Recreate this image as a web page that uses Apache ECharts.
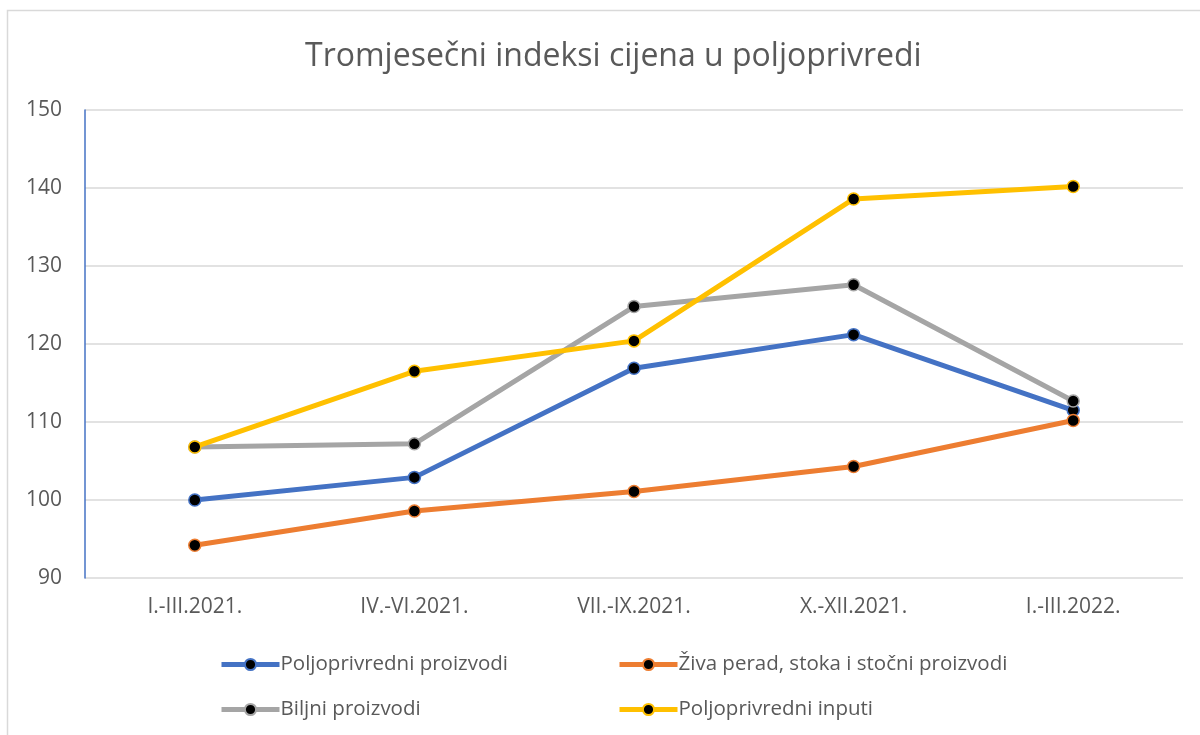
<!DOCTYPE html>
<html>
<head>
<meta charset="utf-8">
<script src="https://cdn.jsdelivr.net/npm/echarts@6/dist/echarts.min.js"></script>
<style>html,body{margin:0;padding:0;background:#fff}#c{width:1200px;height:735px}</style>
</head>
<body>
<div id="c"></div>
<script>
const title = 'Tromjesečni indeksi cijena u poljoprivredi';
const categories = ['I.-III.2021.', 'IV.-VI.2021.', 'VII.-IX.2021.', 'X.-XII.2021.', 'I.-III.2022.'];
const seriesNames = ['Poljoprivredni proizvodi', 'Živa perad, stoka i stočni proizvodi', 'Biljni proizvodi', 'Poljoprivredni inputi'];
const poljoprivredniProizvodi = [100.0, 102.9, 116.9, 121.2, 111.5];
const zivaPerad = [94.2, 98.6, 101.1, 104.3, 110.2];
const biljniProizvodi = [106.8, 107.2, 124.8, 127.6, 112.7];
const poljoprivredniInputi = [106.8, 116.5, 120.4, 138.6, 140.2];
const seriesData = [poljoprivredniProizvodi, zivaPerad, biljniProizvodi, poljoprivredniInputi];
const colors = ['#4472C4', '#ED7D31', '#A5A5A5', '#FFC000'];
const yTicks = { min: 90, max: 150, interval: 10 };

const font = '"Open Sans", "Noto Sans", sans-serif';
const chart = echarts.init(document.getElementById('c'), null, { renderer: 'canvas' });

const legendPos = [[214, 649], [612, 649], [214, 694], [612, 694]];
const legends = seriesNames.map((n, i) => ({
  data: [n],
  left: legendPos[i][0],
  top: legendPos[i][1],
  itemWidth: 58,
  itemHeight: 14,
  itemGap: 0,
  lineStyle: { width: 5 },
  textStyle: { fontFamily: font, fontSize: 20.5, color: '#595959', padding: [0, 0, 0, -4] }
}));

chart.setOption({
  animation: false,
  backgroundColor: '#fff',
  color: colors,
  title: {
    text: title,
    left: 300,
    top: 36,
    textStyle: { fontFamily: font, fontSize: 32, fontWeight: 'normal', color: '#595959' }
  },
  graphic: [{
    type: 'rect',
    shape: { x: 7.5, y: 10.5, width: 1200, height: 740 },
    style: { fill: 'none', stroke: '#d9d9d9', lineWidth: 1.5 },
    silent: true, z: -1
  }],
  legend: legends,
  grid: { left: 85, right: 17, top: 110, bottom: 157, containLabel: false },
  xAxis: {
    type: 'category',
    data: categories,
    boundaryGap: true,
    axisLine: { show: false },
    axisTick: { show: false },
    axisLabel: { fontFamily: font, fontSize: 21, color: '#595959', margin: 19 }
  },
  yAxis: {
    type: 'value',
    min: yTicks.min, max: yTicks.max, interval: yTicks.interval,
    axisLine: { show: true, lineStyle: { color: '#4472C4', width: 1.5 } },
    axisTick: { show: false },
    axisLabel: { fontFamily: font, fontSize: 21, color: '#595959', margin: 23 },
    splitLine: { lineStyle: { color: '#d9d9d9', width: 1.5 } }
  },
  series: seriesNames.map((n, i) => ({
    name: n,
    type: 'line',
    data: seriesData[i],
    symbol: 'circle',
    symbolSize: 12,
    lineStyle: { color: colors[i], width: 5 },
    itemStyle: { color: '#000', borderColor: colors[i], borderWidth: 1.5 },
    z: 2 + i
  }))
});
</script>
</body>
</html>
